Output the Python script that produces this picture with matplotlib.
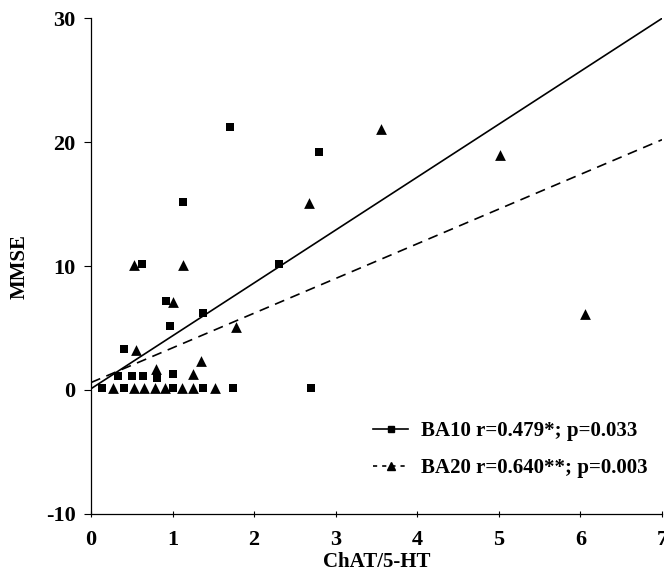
import numpy as np
import matplotlib
matplotlib.use("Agg")
import matplotlib.pyplot as plt
from matplotlib.lines import Line2D

plt.rcParams['font.family'] = ['Liberation Serif', 'DejaVu Serif']
plt.rcParams['font.weight'] = 'bold'
plt.rcParams['axes.unicode_minus'] = False

# BA10 (squares): ChAT/5-HT vs MMSE
ba10_x = [1.70, 2.80, 1.13, 0.62, 2.30, 0.92, 1.37, 0.97, 0.41,
          0.33, 0.50, 0.64, 0.81, 1.00,
          0.13, 0.40, 1.01, 1.37, 1.74, 2.70]
ba10_y = [21.2, 19.2, 15.2, 10.2, 10.2, 7.2, 6.2, 5.2, 3.3,
          1.1, 1.1, 1.1, 1.0, 1.3,
          0.2, 0.2, 0.2, 0.2, 0.2, 0.2]

# BA20 (triangles)
ba20_x = [3.55, 5.02, 2.67, 0.53, 1.13, 1.01, 6.05, 1.78, 0.55,
          0.80, 1.35, 1.25,
          0.27, 0.53, 0.65, 0.79, 0.91, 1.12, 1.25, 1.52]
ba20_y = [21.1, 19.0, 15.1, 10.1, 10.1, 7.1, 6.1, 5.1, 3.2,
          1.7, 2.3, 1.3,
          0.2, 0.2, 0.2, 0.2, 0.2, 0.2, 0.2, 0.2]

# regression lines (intercept, slope)
fit_ba10 = (0.1, 4.27)
fit_ba20 = (0.6, 2.80)

labels = ['BA10 r=0.479*; p=0.033', 'BA20 r=0.640**; p=0.003']

FS = 15

fig = plt.figure(figsize=(6.64, 5.71), dpi=100)
ax = fig.add_axes([0.137, 0.100, 0.860, 0.868])

ax.scatter(ba10_x, ba10_y, marker='s', s=36, color='black', zorder=3, linewidths=0)
ax.scatter(ba20_x, ba20_y, marker='^', s=60, color='black', zorder=3, linewidths=0)

xs = np.array([0, 7])
ax.plot(xs, fit_ba10[0] + fit_ba10[1] * xs, color='black', lw=1.2)
ax.plot(xs, fit_ba20[0] + fit_ba20[1] * xs, color='black', lw=1.2,
        dashes=(6, 4))

ax.set_xlim(0, 7)
ax.set_ylim(-10, 30)
ax.set_xticks(range(0, 8))
ax.set_yticks([-10, 0, 10, 20, 30])

for s in ['top', 'right']:
    ax.spines[s].set_visible(False)
ax.spines['left'].set_linewidth(0.9)
ax.spines['bottom'].set_linewidth(0.9)

ax.tick_params(axis='y', direction='out', length=5, width=0.8, labelsize=16, pad=6)
ax.tick_params(axis='x', direction='inout', length=5, width=0.8, labelsize=16, pad=9)
for lab in ax.get_xticklabels() + ax.get_yticklabels():
    lab.set_fontweight('bold')

ax.set_xlabel('ChAT/5-HT', fontsize=FS, fontweight='bold')
ax.set_ylabel('MMSE', fontsize=FS, fontweight='bold')
ax.xaxis.set_label_coords(0.5, -0.077)
ax.yaxis.set_label_coords(-0.125, 0.5)
ax.xaxis.label.set_va('top')
ax.yaxis.label.set_va('center')

handles = [
    Line2D([], [], color='black', lw=1.2, marker='s', markersize=4.5),
    Line2D([], [], color='black', lw=1.2, dashes=(2.5, 3), marker='^', markersize=5.5),
]
leg = ax.legend(handles, labels, loc='upper left', frameon=False,
                prop={'family': 'Liberation Serif', 'weight': 'bold', 'size': FS},
                handlelength=1.7, handletextpad=0.6, labelspacing=0.8,
                borderaxespad=0, borderpad=0,
                bbox_to_anchor=(0.494, 0.187))

fig.savefig('out.png', dpi=100)
